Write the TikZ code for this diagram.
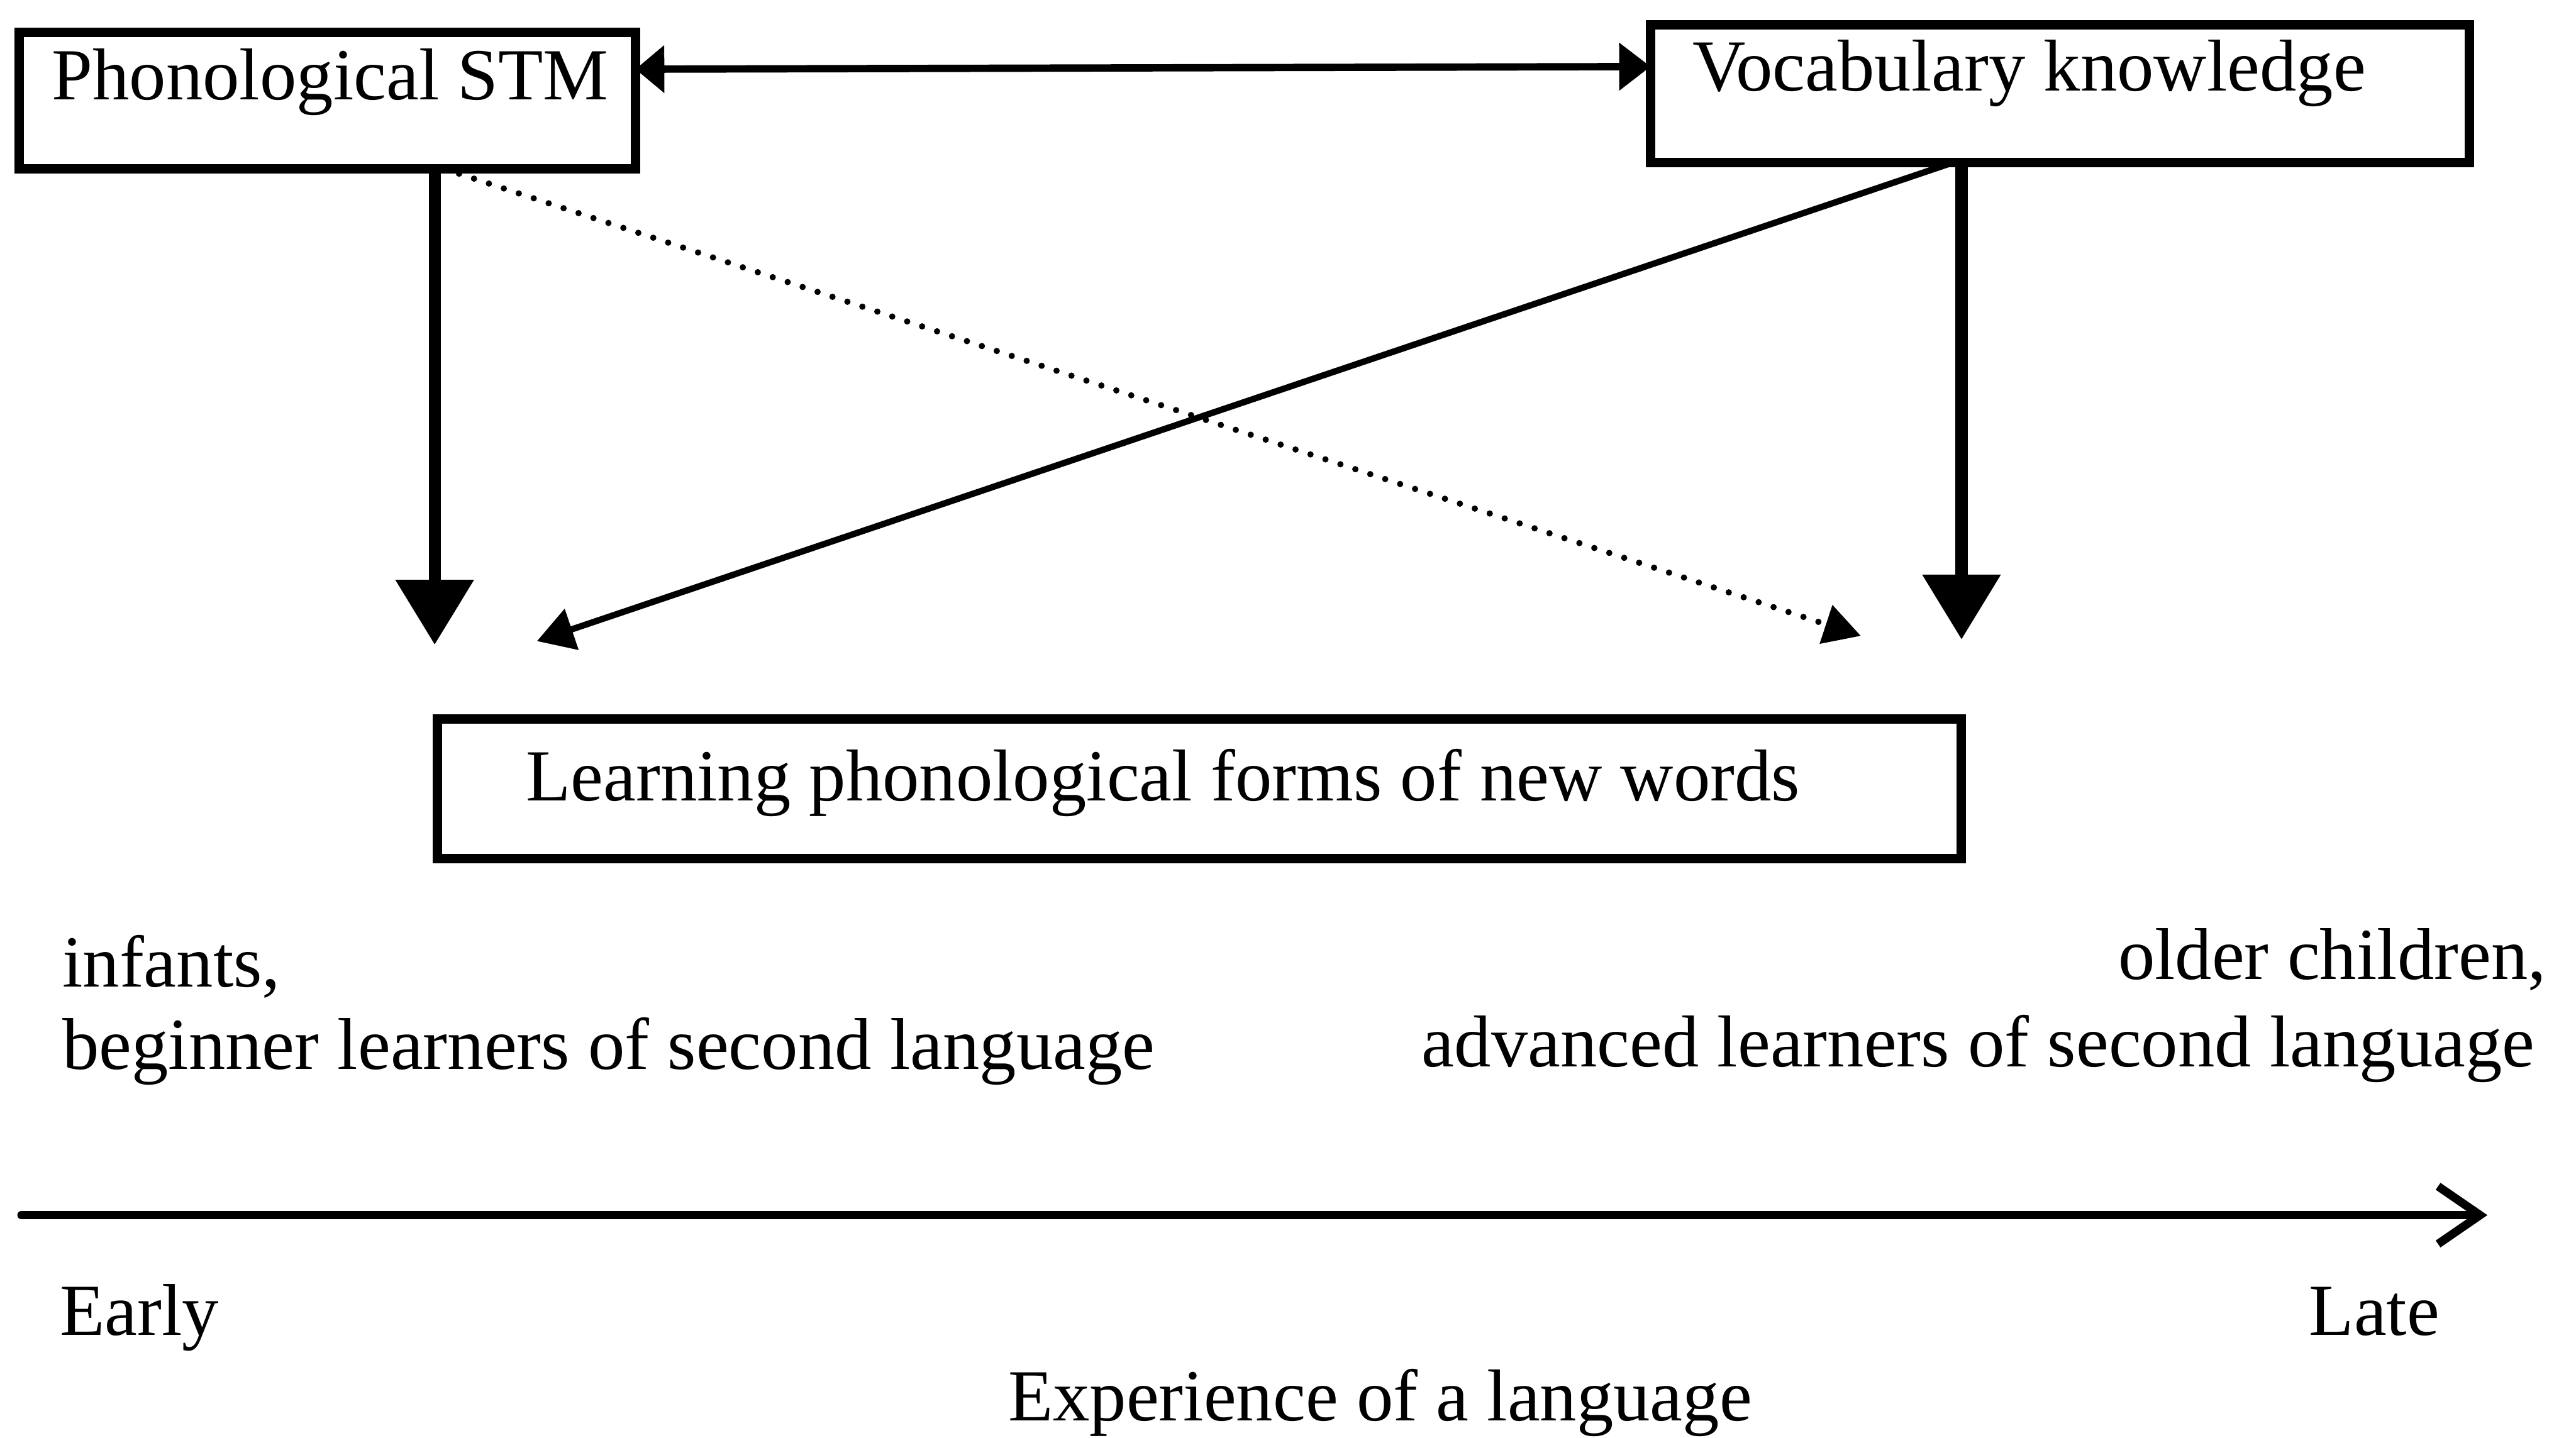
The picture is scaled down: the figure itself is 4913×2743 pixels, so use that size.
\documentclass[tikz,border=0pt]{standalone}
\usepackage{fontspec}
\setmainfont{Liberation Serif}
\usetikzlibrary{arrows.meta}
\begin{document}
\begin{tikzpicture}[x=0.1pt,y=-0.1pt,
  box/.style={draw, line width=1.8pt, rectangle, inner sep=0pt, outer sep=0pt},
  lbl/.style={font=\fontsize{14}{16}\selectfont, inner sep=0pt, anchor=base west},
  bigarr/.style={line width=2.3pt, -{Triangle[length=12.4pt,width=14.4pt]}},
  diagarr/.style={line width=1.2pt, -{Triangle[length=7pt,width=8pt]}},
  dotarr/.style={line width=1.2pt, line cap=round, dash pattern=on 0pt off 3pt, -{Triangle[length=7pt,width=7.5pt]}},
  dblarr/.style={line width=1.4pt, {Triangle[length=5.5pt,width=8.8pt]}-{Triangle[length=6pt,width=8.8pt]}},
  axisarr/.style={line width=1.6pt, line cap=round, -{Straight Barb[length=8pt,width=11pt]}}]
\useasboundingbox (0,0) rectangle (4913,2743);

% boxes
\node[box, minimum width=117.5pt, minimum height=26pt] (stm) at (624.5,192) {};
\node[box, minimum width=156.2pt, minimum height=26.3pt] (voc) at (3929,178.5) {};
\node[box, minimum width=290.7pt, minimum height=26.6pt] (lrn) at (2287.5,1505) {};

% box texts
\node[lbl] (stmT) at (97,190) {Phonological STM};
\node[lbl] (vocT) at (3226,173) {Vocabulary knowledge};
\node[lbl] (lrnT) at (1001,1528) {Learning phonological forms of new words};

% free arrow ends
\coordinate (t1) at (829,1230);
\coordinate (t2) at (1024,1223);
\coordinate (t3) at (3549,1213);
\coordinate (t4) at (3741,1220);

% connectors
\draw[dblarr] ([yshift=6pt]stm.east) -- ([yshift=5.15pt]voc.west);
\draw[bigarr] (stm.south -| t1) -- (t1);
\draw[bigarr] (voc.south -| t4) -- (t4);
\draw[diagarr] ([xshift=-20.4pt]voc.south) -- (t2);
\draw[dotarr] ([xshift=22.25pt]stm.south) -- (t3);

% lower texts
\node[lbl] (inf) at (117,1882) {infants,};
\node[lbl] (beg) at (117,2040) {beginner learners of second language};
\node[lbl, anchor=base east] (old) at (4858,1868) {older children,};
\node[lbl, anchor=base east] (adv) at (4836,2035) {advanced learners of second language};

% axis
\coordinate (axL) at (41,2318);
\coordinate (axR) at (4744,2318);
\draw[axisarr] (axL) -- (axR);
\node[lbl] (early) at (112,2547) {Early};
\node[lbl] (late) at (4402,2547) {Late};
\node[lbl, anchor=base] (exp) at (2632,2710) {Experience of a language};
\end{tikzpicture}
\end{document}
